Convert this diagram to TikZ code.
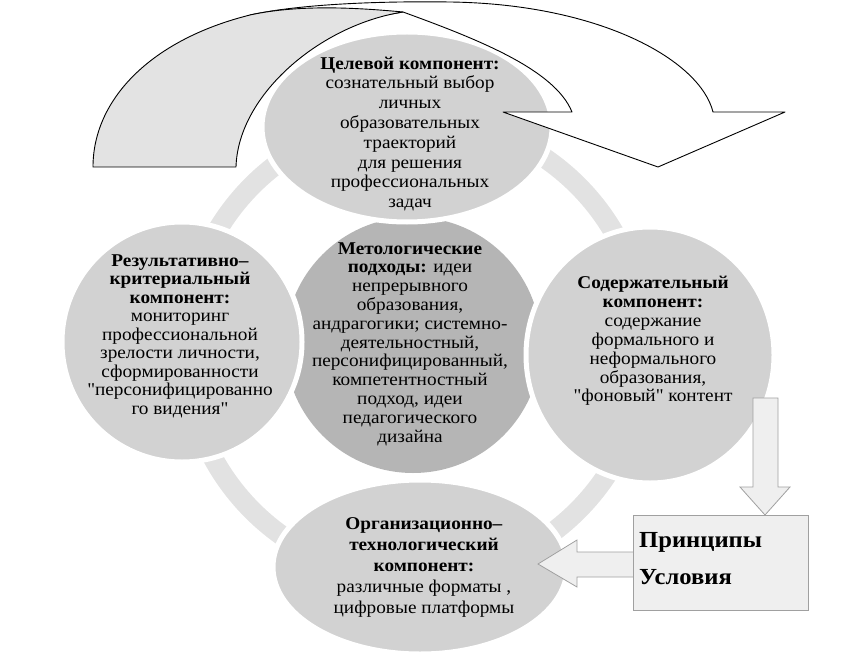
\documentclass[tikz,border=0pt]{standalone}
\usepackage{fontspec}
\setmainfont{Liberation Serif}[Ligatures=TeXOff, FakeStretch=1.07, BoldFont={Liberation Serif Bold}]
\usetikzlibrary{shapes.geometric}
\definecolor{circ}{HTML}{D2D2D2}
\definecolor{centc}{HTML}{B5B5B5}
\definecolor{ringc}{HTML}{E2E2E2}
\definecolor{arrg}{HTML}{E3E3E3}
\definecolor{boxf}{HTML}{EFEFEF}
\definecolor{boxb}{HTML}{A0A0A0}
\newcommand{\txtsize}[1]{\fontsize{18}{#1}\selectfont\lineskiplimit=-30pt\relax}
\tikzset{
  outer/.style={ellipse, fill=circ, draw=white, line width=5pt, inner sep=0pt},
  txt/.style={align=center, inner sep=0pt},
  blockarrow/.style={fill=boxf, draw=boxb, line width=0.8pt, line join=miter},
  bigline/.style={draw=black, line width=0.9pt, line join=round},
}
\begin{document}
\begin{tikzpicture}[x=1pt,y=-1pt]
\useasboundingbox (0,0) rectangle (856,663);
% ring
\fill[ringc, even odd rule] (415,348) circle[radius=240] (415,348) circle[radius=220];
% center circle
\node[circle, fill=centc, minimum size=256pt, inner sep=0pt] (cen) at (413,345) {};
% outer circles
\node[outer, minimum width=290pt, minimum height=190pt] (tgt) at (407,127) {};
\node[outer, minimum width=240pt, minimum height=240pt] (res) at (182,342) {};
\node[outer, minimum width=248pt, minimum height=256pt] (sod) at (650,355) {};
\node[outer, minimum width=294pt, minimum height=174pt] (org) at (420,567) {};
% big curved arrow: body
\path[bigline, fill=white] (300,30) -- (250,15)
  .. controls (300,4) and (380,1) .. (450,2)
  .. controls (600,4) and (700,60) .. (713,112)
  -- (785,112) -- (658,167) -- (503,112) -- (572,112)
  .. controls (555,70) and (480,40) .. (403,12) -- cycle;
% big curved arrow: tail
\path[bigline, fill=arrg] (93,167) .. controls (93,100) and (150,40) .. (250,15)
  .. controls (300,4) and (360,8) .. (403,12)
  .. controls (320,25) and (238,95) .. (236,167) -- cycle;
% texts
\node[txt, font=\txtsize{19.8}] (tgtT) at (410,134) {\textbf{Целевой компонент:}\\сознательный выбор\\личных\\образовательных\\траекторий\\для решения\\профессиональных\\задач};
\node[txt, font=\txtsize{18.5}] (resT) at (180,336) {\textbf{Результативно–}\\\textbf{критериальный}\\\textbf{компонент:}\\мониторинг\\профессиональной\\зрелости личности,\\сформированности\\"персонифицированно\\го видения"};
\node[txt, font=\txtsize{18.8}] (cenT) at (410,344) {\textbf{Метологические}\\\textbf{подходы:} идеи\\непрерывного\\образования,\\андрагогики; системно-\\деятельностный,\\персонифицированный,\\компетентностный\\подход, идеи\\педагогического\\дизайна};
\node[txt, font=\txtsize{18.9}] (sodT) at (653,341) {\textbf{Содержательный}\\\textbf{компонент:}\\содержание\\формального и\\неформального\\образования,\\"фоновый" контент};
\node[txt, font=\txtsize{21}] (orgT) at (424,567) {\textbf{Организационно–}\\\textbf{технологический}\\\textbf{компонент:}\\различные форматы ,\\цифровые платформы};
% down arrow
\path[blockarrow] (753,398) -- (778,398) -- (778,487) -- (790,487) -- (765,515) -- (740,487) -- (753,487) -- cycle;
% left arrow
\path[blockarrow] (634,552) -- (577,552) -- (577,540) -- (538,564) -- (577,587) -- (577,577) -- (634,577);
% box
\node[draw=boxb, fill=boxf, line width=0.8pt, minimum width=175pt, minimum height=95pt, anchor=north west, inner sep=0pt] (box) at (633,515) {};
\node[anchor=base west, inner sep=0pt, font=\fontsize{23}{25}\selectfont\bfseries] (prin) at (639,547) {Принципы};
\node[anchor=base west, inner sep=0pt, font=\fontsize{23}{25}\selectfont\bfseries] (usl) at (639,584) {Условия};
\end{tikzpicture}
\end{document}
